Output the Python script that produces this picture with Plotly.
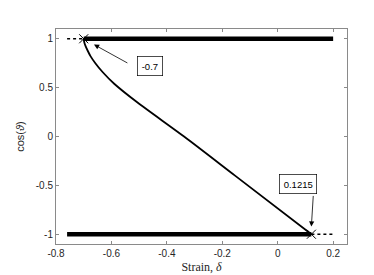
import plotly.graph_objects as go

# Data
upper_stable_x = [-0.7, 0.2]
upper_stable_y = [1, 1]
upper_unstable_x = [-0.76, -0.7]
upper_unstable_y = [1, 1]
lower_stable_x = [-0.76, 0.1215]
lower_stable_y = [-1, -1]
lower_unstable_x = [0.1215, 0.2]
lower_unstable_y = [-1, -1]
curve_x = [-0.7, -0.6985, -0.694, -0.686, -0.675, -0.658, -0.632, -0.590, -0.507, -0.338, -0.154, 0.1215]
curve_y = [1.0, 0.97, 0.93, 0.88, 0.82, 0.75, 0.66, 0.54, 0.35, 0.0, -0.4, -1.0]
bif_x = [-0.7, 0.1215]
bif_y = [1, -1]
bif_labels = ["-0.7", "0.1215"]
x_ticks = [-0.8, -0.6, -0.4, -0.2, 0, 0.2]
x_ticklabels = ["-0.8", "-0.6", "-0.4", "-0.2", "0", "0.2"]
y_ticks = [-1, -0.5, 0, 0.5, 1]
y_ticklabels = ["-1", "-0.5", "0", "0.5", "1"]

fig = go.Figure()
for xs, ys in [(upper_stable_x, upper_stable_y), (lower_stable_x, lower_stable_y)]:
    fig.add_trace(go.Scatter(x=xs, y=ys, mode="lines", line=dict(color="black", width=4.5)))
for xs, ys in [(upper_unstable_x, upper_unstable_y), (lower_unstable_x, lower_unstable_y)]:
    fig.add_trace(go.Scatter(x=xs, y=ys, mode="lines", line=dict(color="black", width=1.5, dash="dot")))
fig.add_trace(go.Scatter(x=curve_x, y=curve_y, mode="lines",
                         line=dict(color="black", width=1.8, shape="spline", smoothing=0.8)))
fig.add_trace(go.Scatter(x=bif_x, y=bif_y, mode="markers",
                         marker=dict(symbol="x-thin", size=9, line=dict(color="black", width=1))))

# arrows (head at data point, tail in data coordinates)
arrows = [
    dict(x=-0.663, y=0.941, ax=-0.537, ay=0.744),
    dict(x=0.1214, y=-0.921, ax=0.1286, ay=-0.593),
]
for a in arrows:
    fig.add_annotation(x=a["x"], y=a["y"], ax=a["ax"], ay=a["ay"], axref="x", ayref="y",
                       xref="x", yref="y", text="", showarrow=True, arrowhead=2,
                       arrowsize=1.3, arrowwidth=0.8, arrowcolor="black")
boxes = [(-0.461, 0.724), (0.074, -0.483)]
for (bx, by), lab in zip(boxes, bif_labels):
    fig.add_annotation(x=bx, y=by, xref="x", yref="y", text=lab, showarrow=False,
                       font=dict(family="Liberation Sans, Arial", size=9.5, color="black"),
                       bordercolor="black", borderwidth=0.7, borderpad=4, bgcolor="white")

axis_common = dict(showline=True, linecolor="#8a8a8a", linewidth=1, mirror="ticks",
                   ticks="inside", ticklen=3, tickcolor="#8a8a8a", showgrid=False,
                   zeroline=False,
                   tickfont=dict(family="Liberation Sans, Arial", size=10, color="#262626"))
fig.update_xaxes(range=[-0.8, 0.25], tickvals=x_ticks, ticktext=x_ticklabels,
                 title=dict(text="Strain, <i>δ</i>", standoff=4,
                            font=dict(family="Liberation Serif, Times New Roman", size=12, color="#262626")),
                 **axis_common)
fig.update_yaxes(range=[-1.1, 1.1], tickvals=y_ticks, ticktext=y_ticklabels,
                 title=dict(text="cos(<i>ϑ</i>)", standoff=8,
                            font=dict(family="Liberation Sans, Arial", size=11, color="#262626")),
                 **axis_common)
fig.update_layout(width=374, height=275, margin=dict(l=48, r=35, t=21, b=33),
                  plot_bgcolor="white", paper_bgcolor="white", showlegend=False)
fig.write_html("out.html")
